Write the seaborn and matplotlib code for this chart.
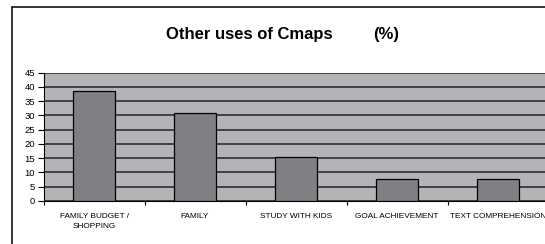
import matplotlib
matplotlib.use("Agg")
import matplotlib.pyplot as plt
import seaborn as sns
import pandas as pd
from matplotlib.lines import Line2D
from matplotlib.ticker import FixedLocator

categories = ["FAMILY BUDGET /\nSHOPPING", "FAMILY", "STUDY WITH KIDS",
              "GOAL ACHIEVEMENT", "TEXT COMPREHENSION"]
values = [38.5, 30.8, 15.4, 7.7, 7.7]
yticks = [0, 5, 10, 15, 20, 25, 30, 35, 40, 45]
title_main = "Other uses of Cmaps"
title_unit = "(%)"

sns.set_style("white")
plt.rcParams["font.family"] = ["Liberation Sans", "DejaVu Sans"]
plt.rcParams["text.color"] = "black"

W, H = 545, 244
fig = plt.figure(figsize=(W / 100, H / 100), dpi=100)
fig.patch.set_facecolor("white")

x0, x1 = 43.5, 548.5
y0, y1 = 201, 72.5
ax = fig.add_axes([x0 / W, 1 - y0 / H, (x1 - x0) / W, (y0 - y1) / H])
ax.set_facecolor("#b4b4b8")

df = pd.DataFrame({"cat": categories, "val": values})
sns.barplot(data=df, x="cat", y="val", ax=ax, color="#808084",
            saturation=1, width=0.406, edgecolor="black", linewidth=0.9,
            zorder=3)

ax.set_xlim(-0.5, len(categories) - 0.5)
ax.set_ylim(0, 45)
ax.set_yticks(yticks)
ax.set_yticklabels([str(v) for v in yticks], fontsize=6.8, color="black")
ax.yaxis.grid(True, color="#222222", linewidth=1.1, zorder=1)
ax.set_axisbelow(True)
ax.tick_params(axis="y", left=True, length=4, width=0.8, pad=2, color="black")

ax.set_xticks(range(len(categories)))
ax.set_xticklabels(categories, fontsize=5.95, color="black", linespacing=1.55,
                   va="top")
ax.xaxis.set_minor_locator(FixedLocator([i - 0.5 for i in range(len(categories) + 1)]))
ax.tick_params(axis="x", which="major", length=0, pad=8.5)
ax.tick_params(axis="x", which="minor", bottom=True, length=3, width=0.8, color="black")
ax.set_xlabel("")
ax.set_ylabel("")

for s in ["top", "right"]:
    ax.spines[s].set_visible(False)
for s in ["left", "bottom"]:
    ax.spines[s].set_visible(True)
    ax.spines[s].set_color("black")
    ax.spines[s].set_linewidth(0.8)

# title
fig.text(166 / W, 1 - 34.5 / H, title_main, ha="left", va="center",
         fontsize=12, fontweight="bold", color="black")
fig.text(372.7 / W, 1 - 34.5 / H, title_unit, ha="left", va="center",
         fontsize=12, fontweight="bold", color="black")

# outer chart border (clipped at right and bottom)
bx, by = 11.5, 7.3
fig.add_artist(Line2D([bx / W, bx / W], [1 - by / H, -0.05],
                      transform=fig.transFigure, color="black", linewidth=1.1))
fig.add_artist(Line2D([bx / W, 1.05], [1 - by / H, 1 - by / H],
                      transform=fig.transFigure, color="black", linewidth=1.1))

fig.savefig("out.png", dpi=100)
